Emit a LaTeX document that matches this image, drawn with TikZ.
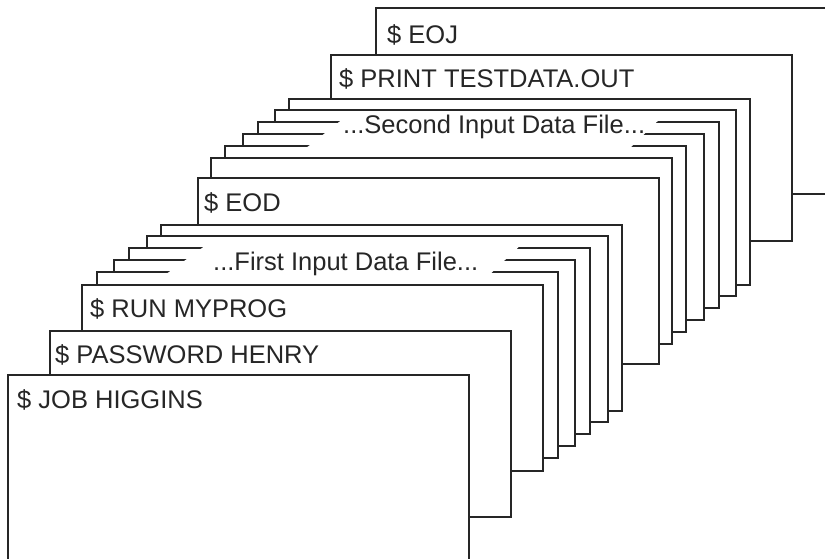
\documentclass[tikz,border=0pt]{standalone}
\usepackage{fontspec}
\setmainfont{Liberation Sans}
\usetikzlibrary{positioning}
\tikzset{
    card/.style={draw=black!85, fill=white, line width=2.2pt}, % one card of the deck
    cardtext/.style={anchor=base west, inner sep=0pt, text=black!85, font=\fontsize{25.5}{30}\selectfont}, % text punched on a card
    gap/.style={fill=white, draw=none}, % blank strip behind a data file label
}

\begin{document}
\begin{tikzpicture}[x=1pt, y=-1pt]
    \useasboundingbox (0,0) rectangle (825,558);
    \clip (0,0) rectangle (825,558);
    % back of the deck: job end, print and the second data file
    \foreach \x/\y/\n in {376/8/eoj, 331/55/print, 289/99/sd1, 275/110/sd2, 258/122/sd3, 243/134/sd4, 225/146/sd5} {
        \draw[card] (\x,\y) rectangle ++(461,186);
        \coordinate (\n) at (\x,\y);
    }
    \fill[gap] (353,111) -- (668,111) -- (626,152) -- (301,152) -- cycle;
    \node[cardtext] (secondfile) at (343,133) {...Second Input Data File...};
    % end of data and the first data file
    \foreach \x/\y/\n in {211/158/sd6, 198/178/eod, 161/225/fd1, 147/236/fd2, 129/248/fd3, 114/260/fd4, 97/272/fd5} {
        \draw[card] (\x,\y) rectangle ++(461,186);
        \coordinate (\n) at (\x,\y);
    }
    \fill[gap] (213,240) -- (526,240) -- (484,280) -- (158,280) -- cycle;
    \node[cardtext] (firstfile) at (213,270) {...First Input Data File...};
    % front of the deck
    \foreach \x/\y/\n in {82/285/run, 50/331/password, 8/375/job} {
        \draw[card] (\x,\y) rectangle ++(461,186);
        \coordinate (\n) at (\x,\y);
    }
    \node[cardtext] (eojtext) at ([shift={(11,35)}]eoj) {\$ EOJ};
    \node[cardtext] (printtext) at ([shift={(8,32)}]print) {\$ PRINT TESTDATA.OUT};
    \node[cardtext] (eodtext) at ([shift={(6,33)}]eod) {\$ EOD};
    \node[cardtext] (runtext) at ([shift={(8,32)}]run) {\$ RUN MYPROG};
    \node[cardtext] (passwordtext) at ([shift={(5,32)}]password) {\$ PASSWORD HENRY};
    \node[cardtext] (jobtext) at ([shift={(9,33)}]job) {\$ JOB HIGGINS};
\end{tikzpicture}
\end{document}
